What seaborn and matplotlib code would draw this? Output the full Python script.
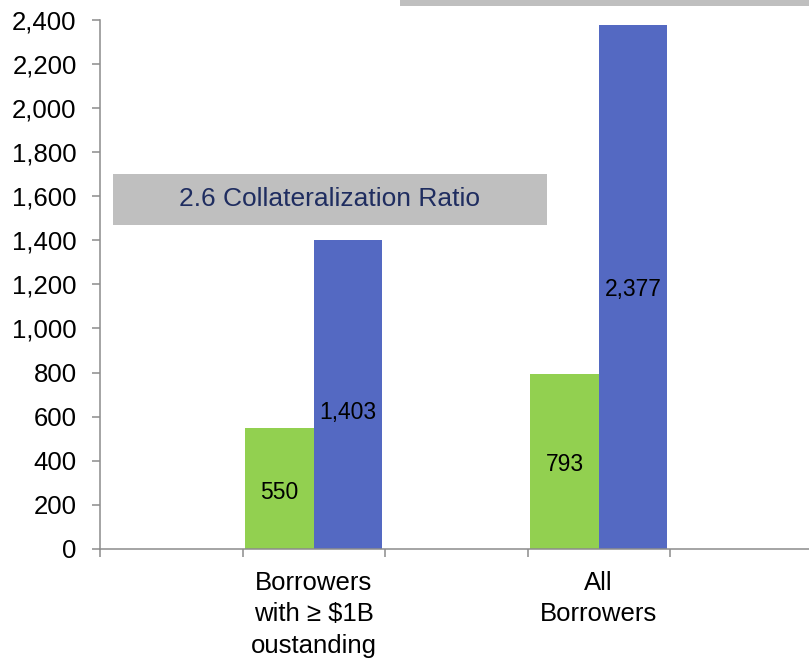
import matplotlib
matplotlib.use("Agg")
import matplotlib.pyplot as plt
from matplotlib.patches import Rectangle
from matplotlib.ticker import FuncFormatter
import pandas as pd
import seaborn as sns

# ---- data ----
categories = ["Borrowers\nwith \u2265 $1B\noustanding", "All\nBorrowers"]
series_names = ["Outstanding", "Collateral"]
outstanding = [550, 793]
collateral = [1403, 2377]
ratio_text = "2.6 Collateralization Ratio"
y_ticks = list(range(0, 2401, 200))

# ---- style ----
GREEN = "#92D050"
BLUE = "#5469C2"
AXIS_GRAY = "#8C8C8C"
BOX_GRAY = "#BFBFBF"
NAVY = "#1F2D60"
label_offsets = [-3, -2, -13, -2]   # points, per bar: outstanding..., collateral...

sns.set_style("white")
plt.rcParams["font.family"] = ["Liberation Sans", "DejaVu Sans"]
plt.rcParams["text.color"] = "black"
plt.rcParams["xtick.color"] = "black"
plt.rcParams["ytick.color"] = "black"

df = pd.DataFrame({
    "group": categories * 2,
    "series": [series_names[0]] * len(outstanding) + [series_names[1]] * len(collateral),
    "value": outstanding + collateral,
})

# empty slots around the groups give the wide spacing between them
order = ["_pad0", categories[0], "_pad1", categories[1]]

fig = plt.figure(figsize=(8.09, 6.58), dpi=100)
W, H = 809, 658
ax = fig.add_axes([100 / W, (H - 549) / H, 712.5 / W, (549 - 19.6) / H])

sns.barplot(data=df, x="group", y="value", hue="series", order=order,
            hue_order=series_names, palette=[GREEN, BLUE], saturation=1,
            width=0.96, gap=0, linewidth=0, legend=False, ax=ax)

ax.set_xlim(-0.5, 4.5)
ax.set_ylim(0, 2400)
ax.set_xlabel("")
ax.set_ylabel("")

# value labels in the middle of each bar
i = 0
for cont in ax.containers:
    for bar in cont:
        h = bar.get_height()
        if h != h or h == 0:
            continue
        ax.annotate(f"{h:,.0f}", (bar.get_x() + bar.get_width() / 2, h / 2),
                    xytext=(0, label_offsets[i]), textcoords="offset points",
                    ha="center", va="center", fontsize=16.5, color="black")
        i += 1

# axes & ticks
ax.set_yticks(y_ticks)
ax.yaxis.set_major_formatter(FuncFormatter(lambda v, p: f"{v:,.0f}"))
ax.set_xticks([-0.5, 0.5, 1.5, 2.5, 3.5, 4.5])
ax.set_xticklabels([])
ax.set_xticks([1, 3], minor=True)
ax.set_xticklabels(categories, minor=True, fontsize=18.5, linespacing=1.38)
ax.tick_params(axis="x", which="minor", bottom=True, length=0, pad=16, labelcolor="black")
ax.tick_params(axis="x", which="major", bottom=True, length=5.8, width=1.1,
               color=AXIS_GRAY, direction="out")
ax.tick_params(axis="y", left=True, length=5.8, width=1.1, color=AXIS_GRAY, direction="out",
               labelsize=18.5, pad=11, labelcolor="black")
for s in ["top", "right"]:
    ax.spines[s].set_visible(False)
for s in ["left", "bottom"]:
    ax.spines[s].set_color(AXIS_GRAY)
    ax.spines[s].set_linewidth(1.1)
ax.grid(False)

# ratio call-out boxes
ax.add_patch(Rectangle((-0.411, 1469), 3.046, 231, facecolor=BOX_GRAY,
                       edgecolor="none", zorder=3, clip_on=False))
ax.text(1.11, 1585, ratio_text, ha="center", va="center", fontsize=19,
        color=NAVY, zorder=4)
ax.add_patch(Rectangle((1.604, 2462), 3.2, 200, facecolor=BOX_GRAY,
                       edgecolor="none", zorder=3, clip_on=False))

fig.savefig("out.png", dpi=100)
